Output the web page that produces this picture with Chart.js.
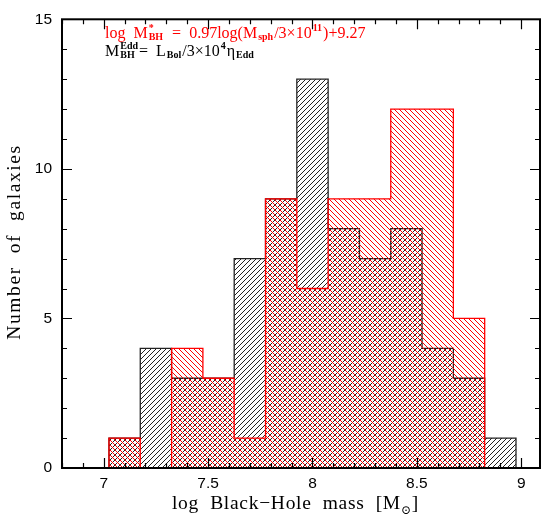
<!DOCTYPE html>
<html lang="en">
<head>
<meta charset="UTF-8">
<title>Black-hole mass histogram</title>
<script src="https://cdn.jsdelivr.net/npm/chart.js@4.4.3/dist/chart.umd.min.js"></script>
<style>
  body { margin: 0; background: #fff; }
  #chart { display: block; }
</style>
</head>
<body>
<canvas id="chart" width="542" height="523"></canvas>
<script>
// histogram bins in log M_BH, 0.15 dex wide
const binEdges = [7.025, 7.175, 7.325, 7.475, 7.625, 7.775, 7.925, 8.075, 8.225, 8.375, 8.525, 8.675, 8.825, 8.975];
const eddCounts = [1, 4, 3, 3, 7, 9, 13, 8, 7, 8, 4, 3, 1];   // black: M_BH^Edd
const sphCounts = [1, 0, 4, 3, 1, 9, 6, 9, 9, 12, 12, 5, 0];  // red: M_BH^* from M_sph
const xTickLabels = [7, 7.5, 8, 8.5, 9];
const yTickLabels = [0, 5, 10, 15];
const xRange = [6.8, 9.09];
const yRange = [0, 15];

const SERIF = '"Liberation Serif", "DejaVu Serif", serif';
const SANS = '"Liberation Sans", Arial, sans-serif';

// turn bin counts into points for a stepped outline
function stepData(counts) {
    const pts = [{ x: binEdges[0], y: 0 }];
    counts.forEach((c, i) => pts.push({ x: binEdges[i], y: c }));
    pts.push({ x: binEdges[binEdges.length - 1], y: 0 });
    return pts;
}

const canvas = document.getElementById('chart');
const ctx = canvas.getContext('2d');

function hatch(color, dir) {
    const s = 5;
    const c = document.createElement('canvas');
    c.width = s; c.height = s;
    const g = c.getContext('2d');
    g.strokeStyle = color;
    g.lineWidth = 1;
    g.beginPath();
    if (dir > 0) { // "/"
        g.moveTo(0, s); g.lineTo(s, 0);
        g.moveTo(-1, 1); g.lineTo(1, -1);
        g.moveTo(s - 1, s + 1); g.lineTo(s + 1, s - 1);
    } else {       // "\"
        g.moveTo(0, 0); g.lineTo(s, s);
        g.moveTo(-1, s - 1); g.lineTo(1, s + 1);
        g.moveTo(s - 1, -1); g.lineTo(s + 1, 1);
    }
    g.stroke();
    return ctx.createPattern(c, 'repeat');
}

// draw text with stacked super/subscripts
function drawRich(c, x, y, parts, color, size) {
    c.fillStyle = color;
    c.textAlign = 'left';
    c.textBaseline = 'alphabetic';
    for (const p of parts) {
        if (typeof p === 'string') {
            c.font = size + 'px ' + SERIF;
            c.fillText(p, x, y);
            x += c.measureText(p).width;
        } else {
            c.font = 'bold ' + Math.round(size * 0.62) + 'px ' + SERIF;
            let w = 0;
            if (p.sup) {
                c.fillText(p.sup, x + 1, y - size * 0.45);
                w = Math.max(w, c.measureText(p.sup).width);
            }
            if (p.sub) {
                c.fillText(p.sub, x + 1, y + size * 0.15);
                w = Math.max(w, c.measureText(p.sub).width);
            }
            x += w + 2;
        }
    }
    return x;
}

const framePlugin = {
    id: 'frame',
    afterDatasetsDraw(chart) {
        const c = chart.ctx;
        const a = chart.chartArea;
        const xs = chart.scales.x, ys = chart.scales.y;
        c.save();
        c.strokeStyle = '#000';
        c.lineWidth = 1.2;
        c.beginPath();
        for (let v = 6.8; v <= xRange[1] + 1e-9; v += 0.1) {
            const px = Math.round(xs.getPixelForValue(v)) + 0.5;
            const major = Math.abs(v * 2 - Math.round(v * 2)) < 1e-6;
            const len = major ? 10 : 5;
            c.moveTo(px, a.bottom); c.lineTo(px, a.bottom - len);
            c.moveTo(px, a.top); c.lineTo(px, a.top + len);
        }
        for (let v = yRange[0]; v <= yRange[1]; v += 1) {
            const py = Math.round(ys.getPixelForValue(v)) + 0.5;
            const len = v % 5 === 0 ? 10 : 5;
            c.moveTo(a.left, py); c.lineTo(a.left + len, py);
            c.moveTo(a.right, py); c.lineTo(a.right - len, py);
        }
        c.stroke();
        c.lineWidth = 2;
        c.strokeRect(a.left, a.top, a.right - a.left, a.bottom - a.top);
        c.restore();
    },
    afterDraw(chart) {
        const c = chart.ctx;
        c.save();
        drawRich(c, 105, 38, ['log  M', { sup: '*', sub: 'BH' }, '  =  0.97log(M', { sub: 'sph' },
            '/3\u00d710', { sup: '11' }, ')+9.27'], '#ff0000', 16);
        drawRich(c, 105, 56, ['M', { sup: 'Edd', sub: 'BH' }, '=  L', { sub: 'Bol' },
            '/3\u00d710', { sup: '4' }, '\u03b7', { sub: 'Edd' }], '#000', 16);

        // x axis title
        c.fillStyle = '#000';
        c.letterSpacing = '0.7px';
        c.font = '19.5px ' + SERIF;
        let x = 172;
        const t1 = 'log  Black\u2212Hole  mass  [M';
        c.fillText(t1, x, 509);
        x += c.measureText(t1).width;
        c.font = '12px ' + SERIF;
        c.fillText('\u2299', x, 514);
        x += c.measureText('\u2299').width;
        c.font = '19.5px ' + SERIF;
        c.fillText(']', x, 509);

        // y axis title
        c.letterSpacing = '1.6px';
        c.translate(20, 242);
        c.rotate(-Math.PI / 2);
        c.textAlign = 'center';
        c.fillText('Number  of  galaxies', 0, 0);
        c.restore();
    }
};

new Chart(ctx, {
    type: 'line',
    data: {
        datasets: [
            {
                label: 'M_BH^*',
                data: stepData(sphCounts),
                borderColor: '#ff0000',
                backgroundColor: hatch('#ff0000', -1),
                fill: 'origin',
                stepped: true,
                borderWidth: 1.3,
                pointRadius: 0,
                order: 0
            },
            {
                label: 'M_BH^Edd',
                data: stepData(eddCounts),
                borderColor: '#222',
                backgroundColor: hatch('#222', 1),
                fill: 'origin',
                stepped: true,
                borderWidth: 1.3,
                pointRadius: 0,
                order: 1
            }
        ]
    },
    options: {
        responsive: false,
        animation: false,
        layout: { padding: { top: 9, right: 2, left: 0, bottom: 0 } },
        plugins: { legend: { display: false }, tooltip: { enabled: false } },
        scales: {
            x: {
                type: 'linear',
                min: xRange[0],
                max: xRange[1],
                afterBuildTicks: s => { s.ticks = xTickLabels.map(v => ({ value: v })); },
                afterFit: s => { s.height = 55; },
                grid: { display: false, drawTicks: false },
                border: { display: false },
                ticks: { padding: 6, color: '#000', maxRotation: 0, font: { family: SANS, size: 15.5 }, callback: v => String(v) }
            },
            y: {
                min: yRange[0],
                max: yRange[1],
                afterBuildTicks: s => { s.ticks = yTickLabels.map(v => ({ value: v })); },
                afterFit: s => { s.width = 62; },
                grid: { display: false, drawTicks: false },
                border: { display: false },
                ticks: { padding: 10, color: '#000', font: { family: SANS, size: 15.5 }, callback: v => String(v) }
            }
        }
    },
    plugins: [framePlugin]
});
</script>
</body>
</html>
